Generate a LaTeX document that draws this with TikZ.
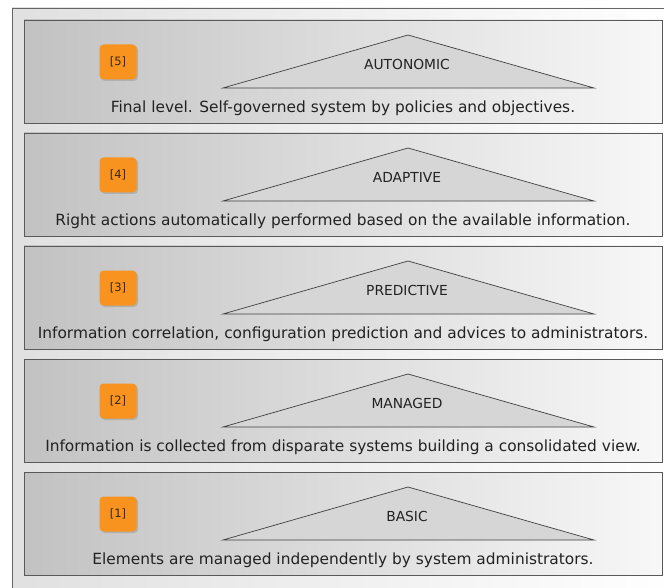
\documentclass[tikz,border=0pt]{standalone}
\usepackage{fontspec}
\setmainfont{DejaVu Sans}
\usetikzlibrary{shadows}
\definecolor{badgeorange}{HTML}{F7931E}
\definecolor{panelgray}{HTML}{C2C2C2}
\definecolor{roofgray}{HTML}{D6D6D6}
\definecolor{textgray}{HTML}{222222}
\begin{document}
\begin{tikzpicture}[x=1pt, y=-1pt,
    panel/.style={draw=black!65, line width=0.8pt, left color=panelgray, right color=white!97!black},
    badge/.style={rounded corners=4pt, fill=badgeorange, minimum width=37pt, minimum height=35pt,
      inner sep=0pt, text=black!70!brown, font=\fontsize{11.5}{13}\selectfont,
      drop shadow={shadow xshift=1.5pt, shadow yshift=-1.5pt, opacity=0.35}},
    roof/.style={draw=black!75, line width=0.7pt, fill=roofgray},
    levelname/.style={font=\fontsize{13.8}{15}\selectfont, text=textgray},
    levelinfo/.style={font=\fontsize{15.4}{17}\selectfont, text=textgray}]
  \useasboundingbox (0,0) rectangle (664,588);
  \clip (0,0) rectangle (664,588);
  % Outer frame behind the five levels
  \draw[draw=black!60, line width=0.8pt, left color=black!12, right color=white] (12,8) rectangle (680,600);
  % One panel per maturity level, from top (5) to bottom (1)
  \foreach \k/\i/\name/\info in {0/5/AUTONOMIC/{Final level. Self-governed system by policies and objectives.},
      1/4/ADAPTIVE/{Right actions automatically performed based on the available information.},
      2/3/PREDICTIVE/{Information correlation, configuration prediction and advices to administrators.},
      3/2/MANAGED/{Information is collected from disparate systems building a consolidated view.},
      4/1/BASIC/{Elements are managed independently by system administrators.}}{
    \pgfmathsetmacro{\top}{20+113*\k}
    \draw[panel] (24,\top) rectangle (662,\top+103);
    \node[badge] (b\i) at (118,\top+42) {[\i]};
    \draw[roof] (223,\top+68) coordinate (l\i) -- (408,\top+15) coordinate (t\i)
      -- (594,\top+68) coordinate (r\i) -- cycle;
    \node[levelname] (n\i) at (407,\top+44) {\name};
    \node[levelinfo] (d\i) at (343,\top+88) {\info};
  }
\end{tikzpicture}
\end{document}
